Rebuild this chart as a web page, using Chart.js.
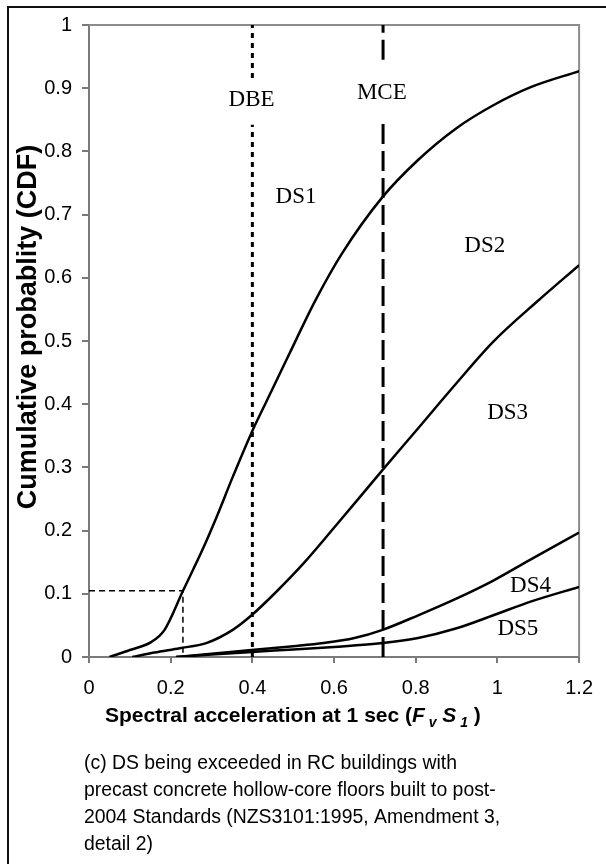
<!DOCTYPE html>
<html lang="en">
<head>
<meta charset="UTF-8">
<title>Fragility curves</title>
<script src="https://cdn.jsdelivr.net/npm/chart.js@4.4.0/dist/chart.umd.min.js"></script>
<style>
  html, body { margin: 0; padding: 0; background: #fff; }
</style>
</head>
<body>
<canvas id="grafico" width="606" height="864"></canvas>
<script>
  // curves: spectral acceleration (x) and cumulative probability (y)
  const ds1X = [0.05, 0.10, 0.153, 0.185, 0.231, 0.278, 0.314, 0.352, 0.398, 0.435, 0.49, 0.555, 0.62, 0.719, 0.805, 0.898, 0.99, 1.083, 1.2];
  const ds1Y = [0, 0.011, 0.024, 0.043, 0.106, 0.170, 0.224, 0.285, 0.355, 0.405, 0.479, 0.565, 0.639, 0.728, 0.786, 0.836, 0.873, 0.902, 0.927];

  const ds2X = [0.106, 0.16, 0.222, 0.287, 0.352, 0.398, 0.463, 0.528, 0.602, 0.719, 0.806, 0.898, 0.99, 1.1, 1.2];
  const ds2Y = [0, 0.007, 0.014, 0.022, 0.043, 0.066, 0.106, 0.150, 0.206, 0.296, 0.362, 0.432, 0.499, 0.564, 0.62];

  const ds3X = [0.213, 0.3, 0.398, 0.5, 0.574, 0.65, 0.719, 0.806, 0.898, 0.99, 1.083, 1.2];
  const ds3Y = [0, 0.005, 0.011, 0.017, 0.022, 0.03, 0.043, 0.066, 0.092, 0.121, 0.155, 0.197];

  const ds4X = [0.213, 0.3, 0.398, 0.5, 0.6, 0.719, 0.806, 0.898, 0.99, 1.083, 1.2];
  const ds4Y = [0, 0.004, 0.008, 0.012, 0.016, 0.022, 0.03, 0.045, 0.066, 0.088, 0.111];

  // design levels
  const dbeX = 0.4;
  const mceX = 0.72;
  // readout at DS1 = 0.105
  const guideX = 0.23;
  const guideY = 0.105;

  const xTickLabels = ['0', '0.2', '0.4', '0.6', '0.8', '1', '1.2'];
  const yTickLabels = ['0', '0.1', '0.2', '0.3', '0.4', '0.5', '0.6', '0.7', '0.8', '0.9', '1'];

  const yTitle = 'Cumulative probablity (CDF)';
  const captionLines = [
    '(c) DS being exceeded in RC buildings with',
    'precast concrete hollow-core floors built to post-',
    '2004 Standards (NZS3101:1995, Amendment 3,',
    'detail 2)'
  ];

  // text placed on the plot, in axis units
  const plotLabels = [
    { text: 'DBE', x: 0.398, y: 0.881 },
    { text: 'MCE', x: 0.717, y: 0.892 },
    { text: 'DS1', x: 0.507, y: 0.728 },
    { text: 'DS2', x: 0.969, y: 0.651 },
    { text: 'DS3', x: 1.025, y: 0.386 },
    { text: 'DS4', x: 1.081, y: 0.112 },
    { text: 'DS5', x: 1.05, y: 0.045 }
  ];

  const SANS = '"Liberation Sans", Arial, sans-serif';
  const SERIF = '"Liberation Serif", "Times New Roman", serif';

  function puntos(xs, ys) {
    return xs.map((x, i) => ({ x: x, y: ys[i] }));
  }

  function curva(label, xs, ys) {
    return {
      label: label,
      data: puntos(xs, ys),
      borderColor: '#000',
      borderWidth: 2.5,
      pointRadius: 0,
      fill: false,
      cubicInterpolationMode: 'monotone'
    };
  }

  // vertical line with a break where its label sits
  function vertical(x, breakLow, breakHigh) {
    return [{ x: x, y: 0 }, { x: x, y: breakLow }, { x: x, y: null }, { x: x, y: breakHigh }, { x: x, y: 1 }];
  }

  const textos = {
    id: 'textos',
    beforeDatasetsDraw(chart) {
      const { ctx, chartArea: a } = chart;
      ctx.save();
      ctx.strokeStyle = '#8c8c8c';
      ctx.lineWidth = 2;
      ctx.beginPath();
      ctx.moveTo(a.left, a.top);
      ctx.lineTo(a.right, a.top);
      ctx.lineTo(a.right, a.bottom);
      ctx.stroke();
      ctx.restore();
    },
    afterDraw(chart) {
      const { ctx } = chart;
      const xs = chart.scales.x, ys = chart.scales.y;
      ctx.save();

      // frame around the figure
      ctx.strokeStyle = '#111';
      ctx.lineWidth = 2;
      ctx.beginPath();
      ctx.moveTo(8, 870);
      ctx.lineTo(8, 7);
      ctx.lineTo(610, 7);
      ctx.stroke();

      // labels on the plot
      ctx.fillStyle = '#000';
      ctx.font = '23px ' + SERIF;
      ctx.textAlign = 'center';
      ctx.textBaseline = 'middle';
      plotLabels.forEach(l => {
        ctx.fillText(l.text, xs.getPixelForValue(l.x), ys.getPixelForValue(l.y));
      });

      // y axis title
      ctx.save();
      ctx.translate(36, 327);
      ctx.rotate(-Math.PI / 2);
      ctx.font = 'bold 27px ' + SANS;
      ctx.textAlign = 'center';
      ctx.textBaseline = 'alphabetic';
      ctx.fillText(yTitle, 0, 0);
      ctx.restore();

      // x axis title with italic symbols and subscripts
      const partes = [
        { t: 'Spectral acceleration at 1 sec (', f: 'bold 21px ' + SANS, dy: 0 },
        { t: 'F', f: 'italic bold 21px ' + SANS, dy: 0 },
        { t: ' v', f: 'italic bold 14px ' + SANS, dy: 5 },
        { t: ' ', f: 'bold 21px ' + SANS, dy: 0 },
        { t: 'S', f: 'italic bold 21px ' + SANS, dy: 0 },
        { t: ' 1', f: 'italic bold 14px ' + SANS, dy: 5 },
        { t: ' )', f: 'bold 21px ' + SANS, dy: 0 }
      ];
      ctx.textAlign = 'left';
      ctx.textBaseline = 'alphabetic';
      let px = 105;
      partes.forEach(p => {
        ctx.font = p.f;
        ctx.fillText(p.t, px, 722 + p.dy);
        px += ctx.measureText(p.t).width;
      });

      // caption
      ctx.font = '19.4px ' + SANS;
      ctx.textBaseline = 'middle';
      captionLines.forEach((line, i) => {
        ctx.fillText(line, 84, 764 + i * 27);
      });
      ctx.restore();
    }
  };

  const ctx = document.getElementById('grafico').getContext('2d');

  new Chart(ctx, {
    type: 'line',
    data: {
      datasets: [
        curva('DS1', ds1X, ds1Y),
        curva('DS2', ds2X, ds2Y),
        curva('DS3', ds3X, ds3Y),
        curva('DS4', ds4X, ds4Y),
        {
          label: 'DBE',
          data: vertical(dbeX, 0.842, 0.916),
          borderColor: '#000',
          borderWidth: 3,
          borderDash: [5, 5],
          pointRadius: 0,
          spanGaps: false
        },
        {
          label: 'MCE',
          data: vertical(mceX, 0.854, 0.945),
          borderColor: '#000',
          borderWidth: 3,
          borderDash: [20, 7],
          pointRadius: 0,
          spanGaps: false
        },
        {
          label: 'lectura',
          data: [{ x: 0, y: guideY }, { x: guideX, y: guideY }, { x: guideX, y: 0 }],
          borderColor: '#000',
          borderWidth: 1.5,
          borderDash: [6, 4],
          pointRadius: 0
        }
      ]
    },
    options: {
      responsive: false,
      animation: false,
      devicePixelRatio: 1,
      layout: { padding: { left: 8, top: 25, right: 16, bottom: 0 } },
      plugins: { legend: { display: false }, tooltip: { enabled: false } },
      scales: {
        x: {
          type: 'linear',
          min: 0,
          max: 1.2,
          afterFit: s => { s.height = 207; },
          ticks: {
            stepSize: 0.2,
            color: '#000',
            padding: 13,
            maxRotation: 0,
            font: { family: SANS, size: 20 },
            callback: (v, i) => xTickLabels[i]
          },
          grid: { drawOnChartArea: false, drawTicks: true, tickLength: 6, color: '#7a7a7a', lineWidth: 2 },
          border: { color: '#7a7a7a', width: 2 }
        },
        y: {
          min: 0,
          max: 1,
          afterFit: s => { s.width = 81; },
          ticks: {
            stepSize: 0.1,
            color: '#000',
            padding: 10,
            font: { family: SANS, size: 20 },
            callback: (v, i) => yTickLabels[i]
          },
          grid: { drawOnChartArea: false, drawTicks: true, tickLength: 7, color: '#7a7a7a', lineWidth: 2 },
          border: { color: '#7a7a7a', width: 2 }
        }
      }
    },
    plugins: [textos]
  });
</script>
</body>
</html>
